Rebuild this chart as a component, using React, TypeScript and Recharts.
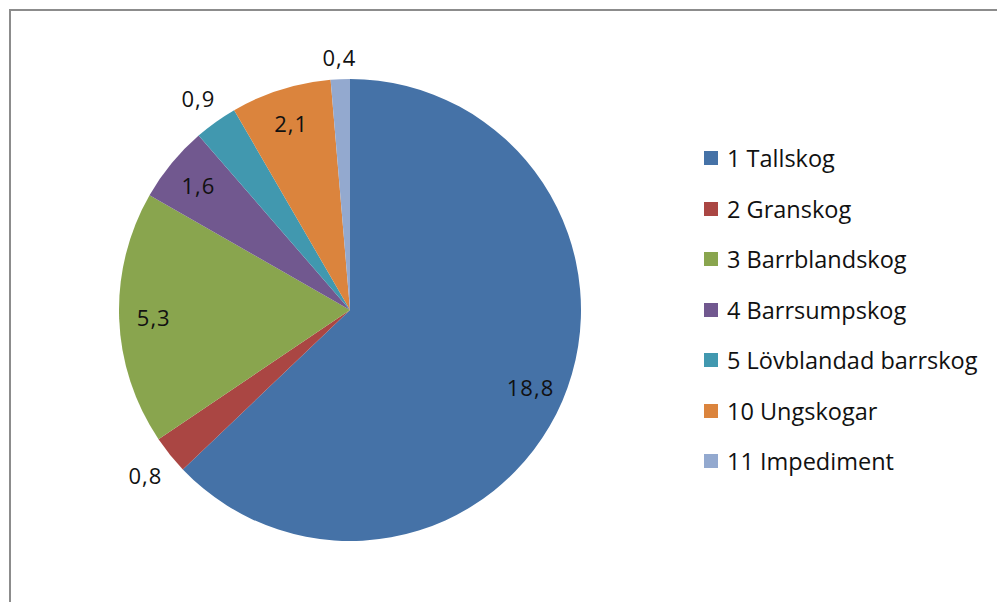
import { PieChart, Pie, Cell, Legend } from "recharts"

const categories = [
  "1 Tallskog",
  "2 Granskog",
  "3 Barrblandskog",
  "4 Barrsumpskog",
  "5 Lövblandad barrskog",
  "10 Ungskogar",
  "11 Impediment",
]
const values = [18.8, 0.8, 5.3, 1.6, 0.9, 2.1, 0.4]
const colors = ["#4572A7", "#AA4643", "#89A54E", "#71588F", "#4198AF", "#DB843D", "#93A9CF"]

const data = categories.map((name, i) => ({ name, value: values[i] }))

const FONT = "'Open Sans', 'Noto Sans', sans-serif"
const RADIAN = Math.PI / 180

const fmt = (v: number) => v.toFixed(1).replace(".", ",")

const renderLabel = (props: any) => {
  const { cx, cy, midAngle, outerRadius, percent, value } = props
  const cos = Math.cos(-midAngle * RADIAN)
  const sin = Math.sin(-midAngle * RADIAN)
  let r
  if (percent > 0.04) {
    r = outerRadius * 0.85
  } else {
    // outside: push past the edge by the projected half size of the text box
    r = outerRadius + 10 + 19 * Math.abs(cos) + 11 * Math.abs(sin)
  }
  const x = cx + r * cos
  const y = cy + r * sin
  return (
    <text x={x} y={y} fill="#111" textAnchor="middle" dominantBaseline="central"
      fontFamily={FONT} fontSize={22} letterSpacing={1}>
      {fmt(value)}
    </text>
  )
}

const renderLegend = () => (
  <div style={{ fontFamily: FONT, fontSize: 23.5, color: "#111" }}>
    {categories.map((c, i) => (
      <div key={c} style={{ display: "flex", alignItems: "center", height: 50.5 }}>
        <span style={{ width: 14, height: 14, background: colors[i], display: "inline-block", marginRight: 9 }} />
        <span>{c}</span>
      </div>
    ))}
  </div>
)

export default function App() {
  return (
    <div style={{ position: "absolute", left: 0, top: 0, width: 997, height: 602, background: "#fff", overflow: "hidden" }}>
      <div style={{ position: "absolute", left: 9, top: 9, width: 1010, height: 620, border: "2px solid #8c8c8c" }} />
      <PieChart width={997} height={602} margin={{ top: 0, right: 0, bottom: 0, left: 0 }}
        style={{ position: "absolute", left: 0, top: 0 }}>
        <Pie
          data={data}
          dataKey="value"
          nameKey="name"
          cx={350}
          cy={310}
          outerRadius={231}
          startAngle={90}
          endAngle={-270}
          stroke="none"
          label={renderLabel}
          labelLine={false}
          isAnimationActive={false}
        >
          {data.map((d, i) => (
            <Cell key={d.name} fill={colors[i]} />
          ))}
        </Pie>
        <Legend
          content={renderLegend}
          layout="vertical"
          wrapperStyle={{ position: "absolute", left: 704, top: 133, width: 293 }}
        />
      </PieChart>
    </div>
  )
}
